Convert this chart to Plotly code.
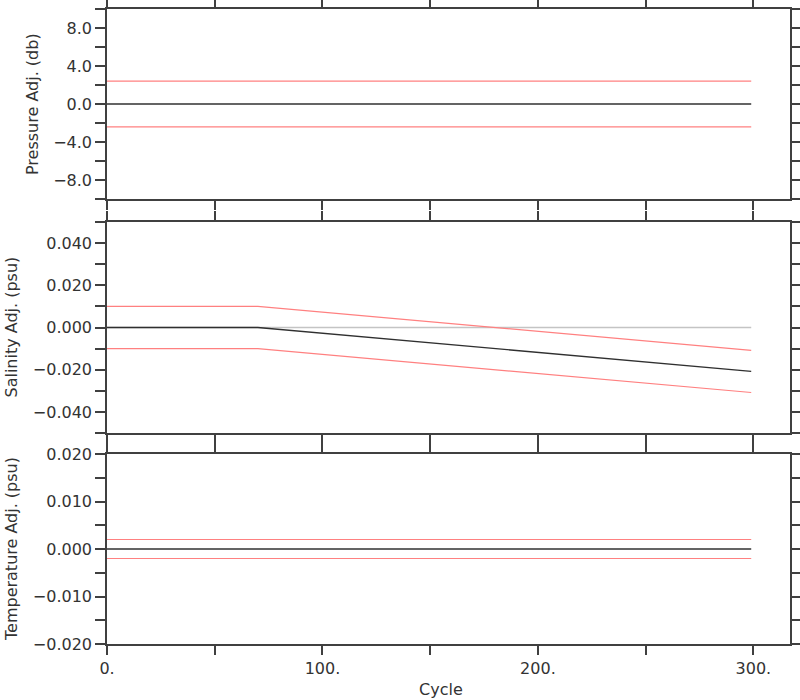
import plotly.graph_objects as go
from plotly.subplots import make_subplots

# ---- data ----
cycles = [0, 70, 299]

pres_adj = [0.0, 0.0, 0.0]
pres_err_hi = [2.4, 2.4, 2.4]
pres_err_lo = [-2.4, -2.4, -2.4]

sal_zero = [0.0, 0.0, 0.0]
sal_adj = [0.0, 0.0, -0.0208]
sal_err_hi = [0.010, 0.010, -0.0108]
sal_err_lo = [-0.010, -0.010, -0.0308]

temp_adj = [0.0, 0.0, 0.0]
temp_err_hi = [0.002, 0.002, 0.002]
temp_err_lo = [-0.002, -0.002, -0.002]

x_tickvals = [0, 50, 100, 150, 200, 250, 300]
x_ticktext = ["0.", "", "100.", "", "200.", "", "300."]

p_tickvals = [-10, -8, -6, -4, -2, 0, 2, 4, 6, 8, 10]
p_ticktext = ["", "\u22128.0", "", "\u22124.0", "", "0.0", "", "4.0", "", "8.0", ""]

s_tickvals = [-0.05, -0.04, -0.03, -0.02, -0.01, 0.0, 0.01, 0.02, 0.03, 0.04, 0.05]
s_ticktext = ["", "\u22120.040", "", "\u22120.020", "", "0.000", "", "0.020", "", "0.040", ""]

t_tickvals = [-0.02, -0.015, -0.01, -0.005, 0.0, 0.005, 0.01, 0.015, 0.02]
t_ticktext = ["\u22120.020", "", "\u22120.010", "", "0.000", "", "0.010", "", "0.020"]

y_titles = ["Pressure Adj. (db)", "Salinity Adj. (psu)", "Temperature Adj. (psu)"]
x_title = "Cycle"

RED = "#ff8080"
BLACK = "#303030"
GRAY = "#c4c4c4"
AXIS = "#404040"
FONT = dict(family="DejaVu Sans", size=16, color="#333333")

W, H = 800, 700
ML, MR, MT, MB = 107, 10, 9, 56
PW, PH = W - ML - MR, H - MT - MB

fig = make_subplots(rows=3, cols=1, vertical_spacing=0.0)

def add(row, y, color, width=1.2):
    fig.add_trace(go.Scatter(x=cycles, y=y, mode="lines",
                             line=dict(color=color, width=width),
                             showlegend=False, hoverinfo="skip"), row=row, col=1)

add(1, pres_err_hi, RED)
add(1, pres_err_lo, RED)
add(1, pres_adj, BLACK, 1.3)

add(2, sal_zero, GRAY, 1.3)
add(2, sal_err_hi, RED)
add(2, sal_err_lo, RED)
add(2, sal_adj, BLACK, 1.3)

add(3, temp_err_hi, RED)
add(3, temp_err_lo, RED)
add(3, temp_adj, BLACK, 1.3)

# panel pixel extents (top, bottom) in page pixels
panel_px = {1: (9, 199), 2: (222, 433), 3: (454, 644)}
def py(p):
    return (H - MB - p) / PH

yinfo = {
    1: ([-10, 10], p_tickvals, p_ticktext),
    2: ([-0.05, 0.05], s_tickvals, s_ticktext),
    3: ([-0.02, 0.02], t_tickvals, t_ticktext),
}
title_x_px = {1: 33, 2: 11, 3: 11}

for r in (1, 2, 3):
    fig.update_xaxes(range=[0, 317], tickmode="array", tickvals=x_tickvals,
                     ticktext=x_ticktext, ticks="outside", ticklen=9, tickwidth=1.5,
                     tickcolor=AXIS, showline=True, linecolor=AXIS, linewidth=1.5,
                     mirror="ticks", showgrid=False, zeroline=False,
                     showticklabels=(r == 3), tickfont=FONT, automargin=False,
                     row=r, col=1)
    rng, tv, tt = yinfo[r]
    top, bot = panel_px[r]
    fig.update_yaxes(range=rng, tickmode="array", tickvals=tv, ticktext=tt,
                     ticks="outside", ticklen=10, tickwidth=1.5, tickcolor=AXIS,
                     showline=True, linecolor=AXIS, linewidth=1.5,
                     mirror="ticks", showgrid=False, zeroline=False,
                     tickfont=FONT, domain=[py(bot), py(top)], automargin=False,
                     row=r, col=1)
    fig.add_annotation(text=y_titles[r - 1], textangle=-90, showarrow=False,
                       xref="paper", yref="paper",
                       x=(title_x_px[r] - ML) / PW, y=py((top + bot) / 2),
                       xanchor="center", yanchor="middle", font=FONT)

fig.add_annotation(text=x_title, showarrow=False, xref="paper", yref="paper",
                   x=(441 - ML) / PW, y=py(689), xanchor="center",
                   yanchor="middle", font=FONT)

fig.update_layout(width=W, height=H,
                  margin=dict(l=ML, r=MR, t=MT, b=MB),
                  paper_bgcolor="white", plot_bgcolor="white",
                  font=FONT, showlegend=False)

fig.write_html("out.html", config={"displayModeBar": False},
               post_script="document.body.style.margin='0px';document.body.style.overflow='hidden';")
